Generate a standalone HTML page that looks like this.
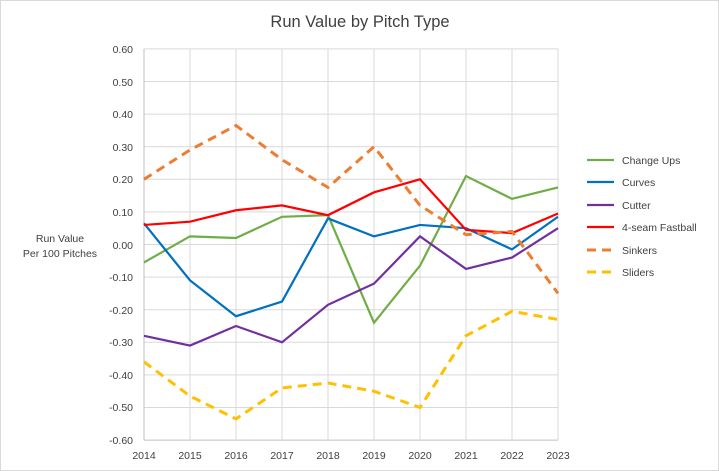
<!DOCTYPE html>
<html><head><meta charset="utf-8"><style>
html,body{margin:0;padding:0;background:#fff}
svg{display:block;font-family:"Liberation Sans",sans-serif}
</style></head><body>
<svg id="s" width="719" height="471" viewBox="0 0 719 471">
<rect x="0.5" y="0.5" width="718" height="470" fill="#fff" stroke="#d9d9d9"/>
<text x="360" y="27" font-size="16.5" fill="#404040" text-anchor="middle">Run Value by Pitch Type</text>
<g id="grid" stroke="#d9d9d9" stroke-width="1"></g>
<g font-size="10.5" fill="#404040" text-anchor="end">
<text x="133" y="53">0.60</text><text x="133" y="86">0.50</text><text x="133" y="118">0.40</text><text x="133" y="151">0.30</text><text x="133" y="183">0.20</text><text x="133" y="216">0.10</text><text x="133" y="249">0.00</text><text x="133" y="281">-0.10</text><text x="133" y="314">-0.20</text><text x="133" y="346">-0.30</text><text x="133" y="379">-0.40</text><text x="133" y="411">-0.50</text><text x="133" y="444">-0.60</text>
</g>
<g font-size="10.5" fill="#404040" text-anchor="middle">
<text x="144" y="459">2014</text><text x="190" y="459">2015</text><text x="236" y="459">2016</text><text x="282" y="459">2017</text><text x="328" y="459">2018</text><text x="374" y="459">2019</text><text x="420" y="459">2020</text><text x="466" y="459">2021</text><text x="512" y="459">2022</text><text x="558" y="459">2023</text>
</g>
<g font-size="10.5" fill="#404040" text-anchor="middle">
<text x="60" y="242">Run Value</text><text x="60" y="257">Per 100 Pitches</text>
</g>
<g id="lines" fill="none"></g>
<g font-size="10.5" fill="#404040">
<line x1="587" y1="160" x2="614" y2="160" stroke="#70ad47" stroke-width="2.2"/><text x="622" y="164">Change Ups</text>
<line x1="587" y1="182" x2="614" y2="182" stroke="#0070c0" stroke-width="2.2"/><text x="622" y="186">Curves</text>
<line x1="587" y1="205" x2="614" y2="205" stroke="#7030a0" stroke-width="2.2"/><text x="622" y="209">Cutter</text>
<line x1="587" y1="227" x2="614" y2="227" stroke="#ff0000" stroke-width="2.2"/><text x="622" y="231">4-seam Fastball</text>
<line x1="587" y1="250" x2="614" y2="250" stroke="#ed7d31" stroke-width="3" stroke-dasharray="9,6"/><text x="622" y="254">Sinkers</text>
<line x1="587" y1="272" x2="614" y2="272" stroke="#ffc000" stroke-width="3" stroke-dasharray="9,6"/><text x="622" y="276">Sliders</text>
</g>
</svg>
<script>
var ns="http://www.w3.org/2000/svg";
function X(i){return 144+i*46}function Y(v){return 244.5-v*326}
var g=document.getElementById("grid");
for(var i=0;i<13;i++){var l=document.createElementNS(ns,"line");var y=Y(0.6-i*0.1);l.setAttribute("x1",144);l.setAttribute("x2",558);l.setAttribute("y1",y);l.setAttribute("y2",y);if(i==12)l.setAttribute("stroke","#bfbfbf");g.appendChild(l);}
for(var i=0;i<10;i++){var l=document.createElementNS(ns,"line");l.setAttribute("x1",X(i));l.setAttribute("x2",X(i));l.setAttribute("y1",Y(0.6));l.setAttribute("y2",Y(-0.6));if(i==0)l.setAttribute("stroke","#bfbfbf");g.appendChild(l);}
var S=[
["#70ad47",0,[-0.055,0.025,0.02,0.085,0.09,-0.24,-0.065,0.21,0.14,0.175]],
["#0070c0",0,[0.065,-0.11,-0.22,-0.175,0.08,0.025,0.06,0.05,-0.015,0.085]],
["#7030a0",0,[-0.28,-0.31,-0.25,-0.30,-0.185,-0.12,0.025,-0.075,-0.04,0.05]],
["#ff0000",0,[0.06,0.07,0.105,0.12,0.09,0.16,0.2,0.045,0.035,0.095]],
["#ed7d31",1,[0.2,0.29,0.365,0.26,0.175,0.30,0.12,0.03,0.04,-0.15]],
["#ffc000",1,[-0.36,-0.465,-0.535,-0.44,-0.425,-0.45,-0.50,-0.28,-0.205,-0.23]]];
var L=document.getElementById("lines");
S.forEach(function(s){var p=document.createElementNS(ns,"polyline");p.setAttribute("points",s[2].map(function(v,i){return X(i)+","+Y(v)}).join(" "));p.setAttribute("stroke",s[0]);p.setAttribute("stroke-width",s[1]?3:2.2);if(s[1])p.setAttribute("stroke-dasharray","9,6");L.appendChild(p);});
</script>
</body></html>
